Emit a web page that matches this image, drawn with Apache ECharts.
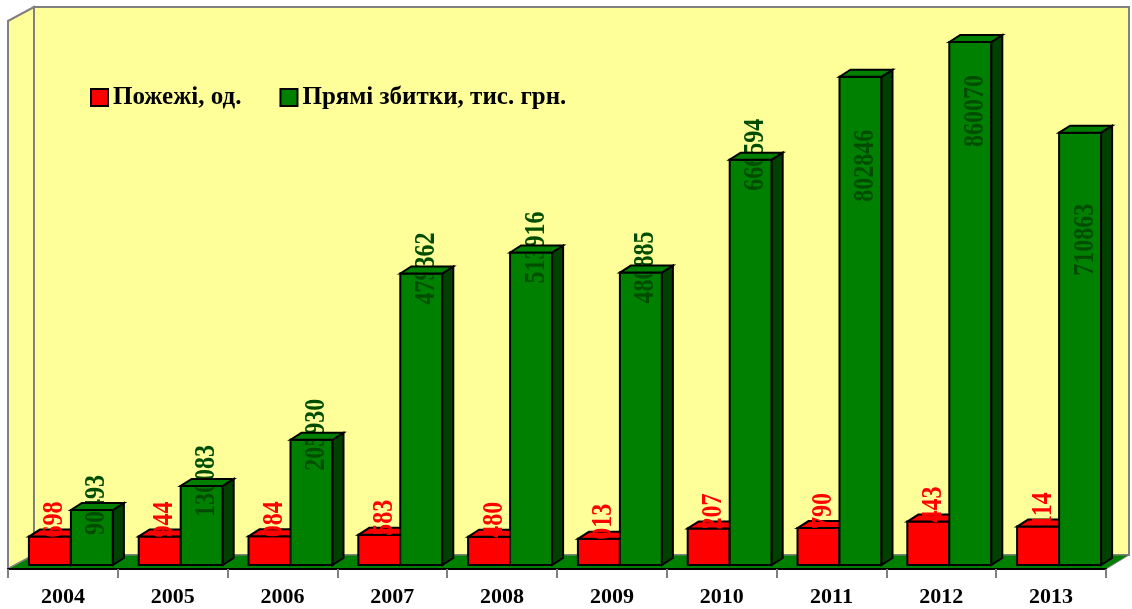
<!DOCTYPE html>
<html>
<head>
    <meta charset="utf-8">
    <title>Пожежі та прямі збитки</title>
    <script src="https://cdn.jsdelivr.net/npm/echarts@6/dist/echarts.min.js"></script>
    <style>
        html, body { margin: 0; padding: 0; background: #fff; }
    </style>
</head>
<body>
<div id="main" style="width: 1132px;height:609px;"></div>
<script>
    // дані з діаграми
    var years = ['2004', '2005', '2006', '2007', '2008', '2009', '2010', '2011', '2012', '2013'];
    var fires = [46698, 46944, 47084, 49583, 46480, 43013, 60207, 60790, 71443, 63114];
    var losses = [90493, 130083, 205930, 479362, 513916, 480885, 666594, 802846, 860070, 710863];
    var firesName = 'Пожежі, од.';
    var lossesName = 'Прямі збитки, тис. грн.';

    // підписи всередині стовпчика (2011-2013): зсув центру підпису від верху, px
    var insideShift = { 7: 89, 8: 69, 9: 107 };

    var DX = 11, DY = -7;   // глибина псевдо-3D
    var serif = '"Liberation Serif", "Times New Roman", serif';
    var labelFont = 'bold 24px ' + serif;

    function bar3d(side, front, topC, sideC, textColor) {
        return function (params, api) {
            var i = api.value(0);
            var v = api.value(1);
            var top = api.coord([i, v]);
            var base = api.coord([i, 0]);
            var bw = api.size([1, 0])[0] * 0.3825;
            var x0 = side === 'left' ? top[0] - bw : top[0];
            var x1 = x0 + bw;
            var y0 = top[1], y1 = base[1];
            var stroke = { stroke: '#000', lineWidth: 2, lineJoin: 'miter' };
            var ly = y0 - 5;
            if (side === 'right' && insideShift[i] !== undefined) {
                ly = y0 + insideShift[i];
            }
            var label = { type: 'text', x: x0 + bw / 2 + 5, y: ly, rotation: Math.PI / 2, scaleY: 1.2,
                          style: { text: String(v), fill: textColor, font: labelFont,
                                   align: 'center', verticalAlign: 'middle' } };
            var kids = [
                { type: 'rect', shape: { x: x0, y: y0, width: bw, height: y1 - y0 },
                  style: Object.assign({ fill: front }, stroke) },
                { type: 'polygon', shape: { points: [[x1, y0], [x1 + DX, y0 + DY], [x1 + DX, y1 + DY], [x1, y1]] },
                  style: Object.assign({ fill: sideC }, stroke) }
            ];
            var topFace = { type: 'polygon', shape: { points: [[x0, y0], [x0 + DX, y0 + DY], [x1 + DX, y0 + DY], [x1, y0]] },
                            style: Object.assign({ fill: topC }, stroke) };
            // червоні підписи поверх, зелені - під верхньою гранню
            if (side === 'left') {
                kids.push(topFace, label);
            } else {
                kids.push(label, topFace);
            }
            return { type: 'group', children: kids };
        };
    }

    var myChart = echarts.init(document.getElementById('main'));

    var option = {
        backgroundColor: '#ffffff',
        animation: false,
        // сітка 0 - стовпчики (зсунуті вглиб), сітка 1 - передній край з підписами років
        grid: [
            { left: 16, right: 18, top: 17.7, bottom: 44, containLabel: false },
            { left: 8, right: 26, top: 17.7, bottom: 40, containLabel: false }
        ],
        legend: {
            left: 85,
            top: 80,
            itemWidth: 17,
            itemHeight: 17,
            itemGap: 38,
            textStyle: { fontFamily: serif, fontWeight: 'bold', fontSize: 25, color: '#000' },
            data: [
                { name: firesName, icon: 'rect', itemStyle: { color: '#ff0000', borderColor: '#000', borderWidth: 2 } },
                { name: lossesName, icon: 'rect', itemStyle: { color: '#008000', borderColor: '#000', borderWidth: 2 } }
            ]
        },
        graphic: [
            // задня стіна
            { type: 'rect', z: -10, shape: { x: 34, y: 7, width: 1095, height: 548 },
              style: { fill: '#ffff99', stroke: '#808080', lineWidth: 2 } },
            // ліва стіна
            { type: 'polygon', z: -10, shape: { points: [[8, 21], [34, 7], [34, 555], [8, 569]] },
              style: { fill: '#ffff99', stroke: '#808080', lineWidth: 2 } },
            // підлога
            { type: 'polygon', z: -9, shape: { points: [[8, 569], [34, 555], [1129, 555], [1106, 569]] },
              style: { fill: '#008000', stroke: '#808080', lineWidth: 1 } }
        ],
        xAxis: [
            { type: 'category', gridIndex: 0, data: years, show: false },
            {
                type: 'category',
                gridIndex: 1,
                data: years,
                axisLine: { lineStyle: { color: '#000', width: 2 } },
                axisTick: { show: true, length: 9, lineStyle: { color: '#808080', width: 2 } },
                axisLabel: { margin: 17, color: '#000', fontWeight: 'bold', fontSize: 22, fontFamily: serif }
            }
        ],
        yAxis: [
            { type: 'value', gridIndex: 0, min: 0, max: 900000, show: false },
            { type: 'value', gridIndex: 1, min: 0, max: 900000, show: false }
        ],
        series: [
            {
                name: firesName,
                type: 'custom',
                xAxisIndex: 0,
                yAxisIndex: 0,
                itemStyle: { color: '#ff0000' },
                renderItem: bar3d('left', '#ff0000', '#ff0000', '#990000', '#ff0000'),
                data: fires.map(function (v, i) { return [i, v]; })
            },
            {
                name: lossesName,
                type: 'custom',
                xAxisIndex: 0,
                yAxisIndex: 0,
                itemStyle: { color: '#008000' },
                renderItem: bar3d('right', '#008000', '#008000', '#004000', '#004d00'),
                data: losses.map(function (v, i) { return [i, v]; })
            }
        ]
    };
    myChart.setOption(option);
</script>
</body>
</html>
